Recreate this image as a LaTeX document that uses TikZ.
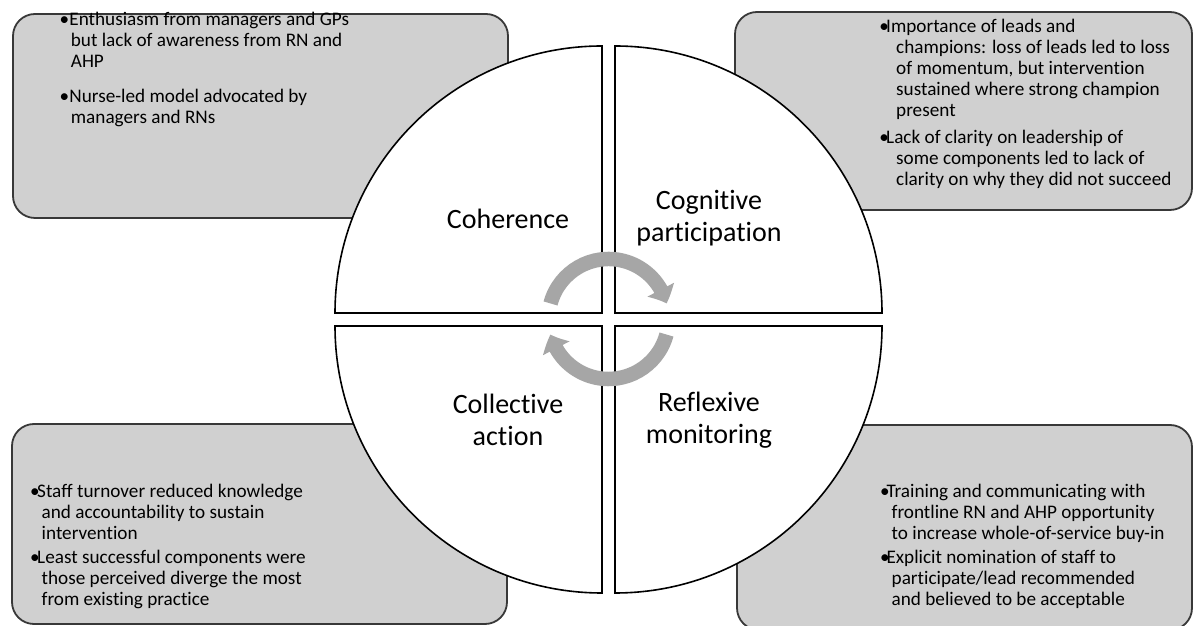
\documentclass[tikz,border=0pt]{standalone}
\usepackage{fontspec}
\setmainfont{Carlito}[Ligatures=NoCommon]
\usetikzlibrary{arrows.meta,bending}

\definecolor{boxfill}{HTML}{D0D0D0}
\definecolor{boxline}{HTML}{383838}
\definecolor{cyclegray}{HTML}{A6A6A6}

\newcommand{\notefont}{\fontsize{19.2}{21}\selectfont}
\newcommand{\labelfont}{\fontsize{28}{32}\selectfont}
% first line of a bullet point: dot in a box of width #1
\newcommand{\bfirst}[2]{\makebox[#1][l]{\textbullet}#2}
% continuation line indented by #1
\newcommand{\bnext}[2]{\hspace*{#1}#2}

\tikzset{
  panel/.style={draw=boxline, fill=boxfill, line width=1.8pt, rounded corners=22pt},
  quadrant/.style={draw=black, fill=white, line width=1.6pt, line join=miter},
  cycle arrow/.style={draw=cyclegray, line width=14.5pt,
    -{Triangle[width=29pt,length=15pt,bend]}},
  phase/.style={align=center, inner sep=0pt, font=\labelfont},
  note/.style={anchor=base west, inner sep=0pt, font=\notefont},
}

\begin{document}
\begin{tikzpicture}[x=1pt,y=1pt]
\useasboundingbox (0,0) rectangle (1194,626);

% shaded panels behind the circle
\draw[panel] (13,408) rectangle (508,612);
\draw[panel] (735,416) rectangle (1192,614);
\draw[panel] (12,2) rectangle (507,202);
\draw[panel] (737,-4) rectangle (1192,201);

% four quarter-circle quadrants
\draw[quadrant] (602,313) -- (335,313) arc[start angle=180, end angle=90, radius=267] -- cycle;
\draw[quadrant] (615,313) -- (615,580) arc[start angle=90, end angle=0, radius=267] -- cycle;
\draw[quadrant] (602,300) -- (335,300) arc[start angle=180, end angle=270, radius=267] -- cycle;
\draw[quadrant] (615,300) -- (882,300) arc[start angle=0, end angle=-90, radius=267] -- cycle;

% circular arrows in the middle
\coordinate (hub) at (608.5,307);
\draw[cycle arrow] ([shift={(165:60)}]hub) arc[start angle=165, end angle=15, radius=60];
\draw[cycle arrow] ([shift={(-15:60)}]hub) arc[start angle=-15, end angle=-165, radius=60];

% quadrant labels
\node[phase] (coh) at (508,407) {Coherence};
\node[phase] (cog) at (709,408) {Cognitive\\participation};
\node[phase] (col) at (508,206) {Collective\\action};
\node[phase] (ref) at (709,206) {Reflexive\\monitoring};

% notes, top left
\node[note] (tl1) at (59.5,600) {\begin{tabular}[t]{@{}l@{}}
  \bfirst{9.7pt}{Enthusiasm from managers and GPs}\\
  \bnext{11.2pt}{but lack of awareness from RN and}\\
  \bnext{11.2pt}{AHP}\end{tabular}};
\node[note] (tl2) at (59.5,523.3) {\begin{tabular}[t]{@{}l@{}}
  \bfirst{9.7pt}{Nurse-led model advocated by}\\
  \bnext{11.2pt}{managers and RNs}\end{tabular}};

% notes, top right
\node[note] (tr1) at (879.2,593.7) {\begin{tabular}[t]{@{}l@{}}
  \bfirst{6.8pt}{Importance of leads and}\\
  \bnext{16.8pt}{champions: loss of leads led to loss}\\
  \bnext{16.8pt}{of momentum, but intervention}\\
  \bnext{16.8pt}{sustained where strong champion}\\
  \bnext{16.8pt}{present}\end{tabular}};
\node[note] (tr2) at (879.2,482) {\begin{tabular}[t]{@{}l@{}}
  \bfirst{6.8pt}{Lack of clarity on leadership of}\\
  \bnext{16.8pt}{some components led to lack of}\\
  \bnext{16.8pt}{clarity on why they did not succeed}\end{tabular}};

% notes, bottom left
\node[note] (bl1) at (29.8,128.7) {\begin{tabular}[t]{@{}l@{}}
  \bfirst{7.2pt}{Staff turnover reduced knowledge}\\
  \bnext{11.7pt}{and accountability to sustain}\\
  \bnext{11.7pt}{intervention}\end{tabular}};
\node[note] (bl2) at (29.8,62) {\begin{tabular}[t]{@{}l@{}}
  \bfirst{7.2pt}{Least successful components were}\\
  \bnext{11.7pt}{those perceived diverge the most}\\
  \bnext{11.7pt}{from existing practice}\end{tabular}};

% notes, bottom right
\node[note] (br1) at (879.8,128.7) {\begin{tabular}[t]{@{}l@{}}
  \bfirst{6.5pt}{Training and communicating with}\\
  \bnext{11.7pt}{frontline RN and AHP opportunity}\\
  \bnext{11.7pt}{to increase whole-of-service buy-in}\end{tabular}};
\node[note] (br2) at (879.8,62) {\begin{tabular}[t]{@{}l@{}}
  \bfirst{6.5pt}{Explicit nomination of staff to}\\
  \bnext{11.7pt}{participate/lead recommended}\\
  \bnext{11.7pt}{and believed to be acceptable}\end{tabular}};
\end{tikzpicture}
\end{document}
